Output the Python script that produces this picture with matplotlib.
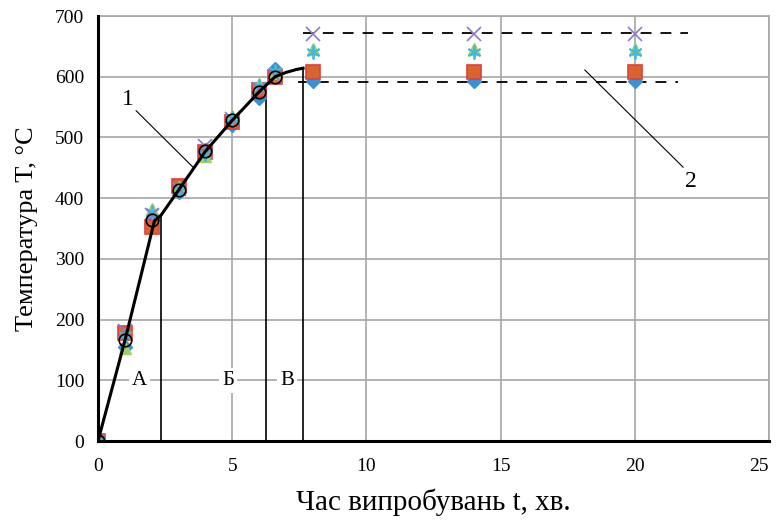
import matplotlib
matplotlib.use("Agg")
import matplotlib.pyplot as plt
import numpy as np

plt.rcParams["font.family"] = ["Liberation Serif", "DejaVu Serif"]

# measured points (test time, min)
t_pts = [0, 1, 2, 3, 4, 5, 6, 6.6, 8, 14, 20]
T_diamond = [0, 155, 365, 410, 480, 520, 565, 612, 593, 593, 593]
T_square = [0, 178, 352, 420, 476, 525, 578, 600, 608, 608, 608]
T_triangle = [0, 153, 382, 418, 470, 535, 588, 606, 645, 645, 645]
T_xmark = [0, 182, 372, 415, 486, 530, 580, 602, 670, 670, 670]
T_star = [0, 175, 378, 412, 472, 532, 585, 610, 640, 640, 640]

t_circ = [0, 1, 2, 3, 4, 5, 6, 6.6]
T_circ = [0, 166, 364, 413, 477, 528, 575, 600]

# averaged heating curve (1)
t_curve = [0, 1, 2.1, 2.35, 3, 4, 5, 6, 6.6, 7.0, 7.4, 7.64]
T_curve = [0, 165, 362, 372, 413, 477, 528, 575, 600, 607, 612, 614]

# stage boundaries
t_bounds = [2.35, 6.25, 7.64]
T_bounds = [370, 586, 614]
stage_x = [1.55, 4.85, 7.05]
stage_labels = ["А", "Б", "В"]

# plateau limits (2)
T_upper, t_upper = 672, [7.64, 22.0]
T_lower, t_lower = 591, [7.45, 21.6]

fig = plt.figure(figsize=(7.76, 5.23), dpi=100)
ax = fig.add_axes([98 / 776, 82 / 523, 671 / 776, 425 / 523])

ax.set_xlim(0, 25)
ax.set_ylim(0, 700)
ax.set_xticks(np.arange(0, 26, 5))
ax.set_yticks(np.arange(0, 701, 100))
ax.grid(True, color="#a6a6a6", lw=1.2, zorder=0)
ax.tick_params(axis="y", length=0, labelsize=14, pad=10)
ax.tick_params(axis="x", length=0, labelsize=14, pad=12)

for s in ["left", "bottom"]:
    ax.spines[s].set_linewidth(2.2)
    ax.spines[s].set_color("black")
    ax.spines[s].set_zorder(5)
for s in ["top", "right"]:
    ax.spines[s].set_color("#a6a6a6")
    ax.spines[s].set_linewidth(1.2)

ax.vlines(t_bounds, 0, T_bounds, color="black", lw=1.2, zorder=3)

ax.plot(t_pts, T_diamond, "D", ms=7, color="#3a8fd6", zorder=4)
ax.plot(t_pts, T_square, "s", ms=10, mfc="#d8652f", mec="#e0403a", mew=1.2, zorder=4)
ax.plot(t_pts, T_triangle, "^", ms=9, color="#9bd16a", zorder=4)
ax.plot(t_pts, T_star, marker=(6, 2, 0), ls="none", ms=10, mew=1.3,
        color="#45b8d8", zorder=4)
ax.plot(t_pts, T_xmark, "x", ms=10, mew=1.2, color="#8a7cc4", zorder=4)
ax.plot(t_circ, T_circ, "o", ms=9, mfc="none", mec="black", mew=1.2, zorder=5)

ax.plot(t_curve, T_curve, color="black", lw=2.2, zorder=6)

ax.plot(t_upper, [T_upper] * 2, color="black", lw=1.3, dashes=(6, 5), zorder=3)
ax.plot(t_lower, [T_lower] * 2, color="black", lw=1.3, dashes=(6, 5), zorder=3)

for x, lab in zip(stage_x, stage_labels):
    ax.text(x, 100, lab, fontsize=15, ha="center", va="center", zorder=4,
            bbox=dict(boxstyle="square,pad=0.15", fc="white", ec="none"))

ax.text(1.12, 562, "1", fontsize=17, ha="center", va="center")
ax.plot([1.42, 3.54], [544, 451], color="black", lw=0.8, zorder=3)
ax.text(22.1, 427, "2", fontsize=17, ha="center", va="center")
ax.plot([18.14, 21.8], [611, 451], color="black", lw=0.8, zorder=3)

ax.set_xlabel("Час випробувань t, хв.", fontsize=21, labelpad=10)
ax.set_ylabel("Температура T, °C", fontsize=19, labelpad=12)

# keep the last x tick label inside the canvas
ax.get_xticklabels()[-1].set_horizontalalignment("right")
ax.get_xticklabels()[-1].set_x(25.3)

fig.savefig("out.png", dpi=100)
